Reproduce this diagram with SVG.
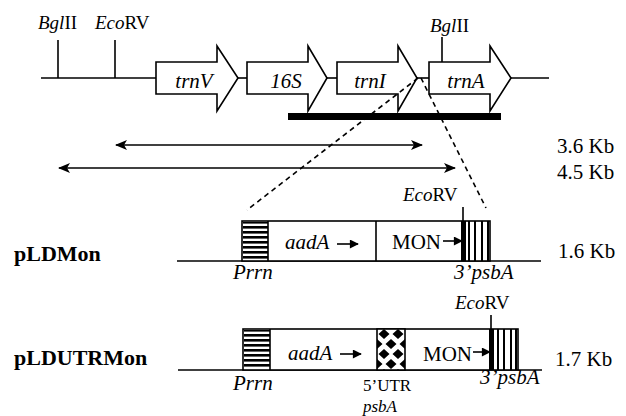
<svg xmlns="http://www.w3.org/2000/svg" width="626" height="416" viewBox="0 0 626 416">
<style>
text{font-family:"Liberation Serif","Times New Roman",serif;fill:#000}
.it{font-style:italic}
.lbl{font-size:21px}
.site{font-size:19px}
.small{font-size:17px}
.kb{font-size:21px}
.bold{font-size:22px;font-weight:bold}
.ln{stroke:#000;stroke-width:1.6;fill:none}
.gene{fill:#fff;stroke:#000;stroke-width:1.6}
.dash{stroke:#000;stroke-width:1.6;stroke-dasharray:5 4;fill:none}
</style>
<defs>
<marker id="ah" viewBox="0 0 12 10" refX="11" refY="5" markerWidth="12" markerHeight="10" markerUnits="userSpaceOnUse" orient="auto-start-reverse">
<path d="M0,0 L12,5 L0,10 L3,5 Z" fill="#000"/>
</marker>
<marker id="sh" viewBox="0 0 10 10" refX="9" refY="5" markerWidth="10" markerHeight="9" markerUnits="userSpaceOnUse" orient="auto">
<path d="M0,0 L10,5 L0,10 Z" fill="#000"/>
</marker>
<pattern id="hstripe" width="8" height="5" patternUnits="userSpaceOnUse" y="221">
<rect width="8" height="5" fill="#fff"/>
<rect width="8" height="2.6" fill="#000"/>
</pattern>
<pattern id="hstripe2" width="8" height="5" patternUnits="userSpaceOnUse" y="329">
<rect width="8" height="5" fill="#fff"/>
<rect width="8" height="2.6" fill="#000"/>
</pattern>
<pattern id="check" width="14" height="20" patternUnits="userSpaceOnUse" x="377" y="329">
<rect width="14" height="20" fill="#fff"/>
<path d="M7,0 L12.5,5 L7,10 L1.5,5 Z M0,10 L5.5,15 L0,20 L-5.5,15 Z M14,10 L19.5,15 L14,20 L8.5,15 Z" fill="#000"/>
</pattern>
</defs>

<g id="map-top">
<line class="ln" x1="41" y1="78" x2="156" y2="78"/>
<line class="ln" x1="238" y1="78" x2="247" y2="78"/>
<line class="ln" x1="327" y1="78" x2="337" y2="78"/>
<line class="ln" x1="417" y1="78" x2="429" y2="78"/>
<line class="ln" x1="511" y1="78" x2="549" y2="78"/>
</g>

<g id="site-bgl1">
<line class="ln" x1="58" y1="40" x2="58" y2="78"/>
<text class="site" x="38" y="29"><tspan class="it">Bgl</tspan>II</text>
</g>
<g id="site-eco1">
<line class="ln" x1="115" y1="40" x2="115" y2="78"/>
<text class="site" x="95" y="29"><tspan class="it">Eco</tspan>RV</text>
</g>

<g id="trnV">
<polygon class="gene" points="156,62 217,62 217,46 238,78 217,111 217,94 156,94"/>
<text class="lbl it" x="194" y="88" text-anchor="middle">trnV</text>
</g>
<g id="16S">
<polygon class="gene" points="247,62 308,62 308,46 327,78 308,111 308,94 247,94"/>
<text class="lbl it" x="286" y="88" text-anchor="middle">16S</text>
</g>
<g id="trnI">
<polygon class="gene" points="337,62 398,62 398,46 417,78 398,111 398,94 337,94"/>
<text class="lbl it" x="370" y="88" text-anchor="middle">trnI</text>
</g>
<g id="trnA">
<polygon class="gene" points="429,62 490,62 490,46 511,78 490,111 490,94 429,94"/>
<text class="lbl it" x="466" y="88" text-anchor="middle">trnA</text>
</g>
<g id="site-bgl2">
<line class="ln" x1="442" y1="37" x2="442" y2="62"/>
<text class="site" x="430" y="32"><tspan class="it">Bgl</tspan>II</text>
</g>

<g id="probe">
<rect x="288" y="113" width="213" height="7" fill="#000"/>
</g>

<g id="connectors">
<line class="dash" x1="418" y1="78" x2="247" y2="210"/>
<line class="dash" x1="421" y1="78" x2="486" y2="208"/>
<line class="ln" x1="116" y1="145" x2="422" y2="145" marker-start="url(#ah)" marker-end="url(#ah)"/>
<line class="ln" x1="59" y1="168" x2="455" y2="168" marker-start="url(#ah)" marker-end="url(#ah)"/>
</g>

<g id="kb-labels">
<text class="kb" x="557" y="153">3.6 Kb</text>
<text class="kb" x="557" y="179">4.5 Kb</text>
</g>

<g id="pLDMon">
<text class="bold" x="14" y="261">pLDMon</text>
<line class="ln" x1="177" y1="261" x2="541" y2="261"/>
<rect class="gene" x="242" y="221" width="248" height="40"/>
<rect x="243" y="222" width="25" height="38" fill="url(#hstripe)"/>
<line class="ln" x1="268" y1="221" x2="268" y2="261"/>
<line class="ln" x1="376" y1="221" x2="376" y2="261"/>
<text class="lbl it" x="285" y="249">aadA</text>
<line class="ln" x1="337" y1="244" x2="358" y2="244" marker-end="url(#sh)"/>
<text class="lbl" x="392" y="249">MON</text>
<line class="ln" x1="443" y1="241" x2="462" y2="241" marker-end="url(#sh)"/>
<line x1="463" y1="207" x2="463" y2="221" stroke="#000" stroke-width="1.6"/>
<rect x="461" y="221" width="5" height="40" fill="#000"/>
<g stroke="#000" stroke-width="2">
<line x1="469" y1="221" x2="469" y2="261"/>
<line x1="475" y1="221" x2="475" y2="261"/>
<line x1="482" y1="221" x2="482" y2="261"/>
<line x1="488" y1="221" x2="488" y2="261"/>
</g>
<text class="site" x="403" y="201"><tspan class="it">Eco</tspan>RV</text>
<text class="lbl it" x="233" y="279">Prrn</text>
<text class="lbl it" x="454" y="279">3’psbA</text>
<text class="kb" x="558" y="258">1.6 Kb</text>
</g>

<g id="pLDUTRMon">
<text class="bold" x="14" y="365">pLDUTRMon</text>
<line class="ln" x1="178" y1="370" x2="542" y2="370"/>
<rect class="gene" x="243" y="329" width="275" height="41"/>
<rect x="244" y="330" width="26" height="39" fill="url(#hstripe2)"/>
<line class="ln" x1="270" y1="329" x2="270" y2="370"/>
<rect x="377" y="329" width="28" height="41" fill="url(#check)" stroke="#000" stroke-width="1.6"/>
<text class="lbl it" x="288" y="360">aadA</text>
<line class="ln" x1="340" y1="354" x2="361" y2="354" marker-end="url(#sh)"/>
<text class="lbl" x="423" y="361">MON</text>
<line class="ln" x1="473" y1="352" x2="490" y2="352" marker-end="url(#sh)"/>
<line x1="491" y1="315" x2="491" y2="329" stroke="#000" stroke-width="1.6"/>
<rect x="489" y="329" width="5" height="41" fill="#000"/>
<g stroke="#000" stroke-width="2">
<line x1="498" y1="329" x2="498" y2="370"/>
<line x1="504" y1="329" x2="504" y2="370"/>
<line x1="511" y1="329" x2="511" y2="370"/>
<line x1="516" y1="329" x2="516" y2="370"/>
</g>
<text class="site" x="455" y="309"><tspan class="it">Eco</tspan>RV</text>
<text class="lbl it" x="233" y="390">Prrn</text>
<text class="small" x="363" y="391">5’UTR</text>
<text class="small it" x="363" y="412">psbA</text>
<text class="lbl it" x="480" y="384">3’psbA</text>
<text class="kb" x="555" y="366">1.7 Kb</text>
</g>
</svg>
